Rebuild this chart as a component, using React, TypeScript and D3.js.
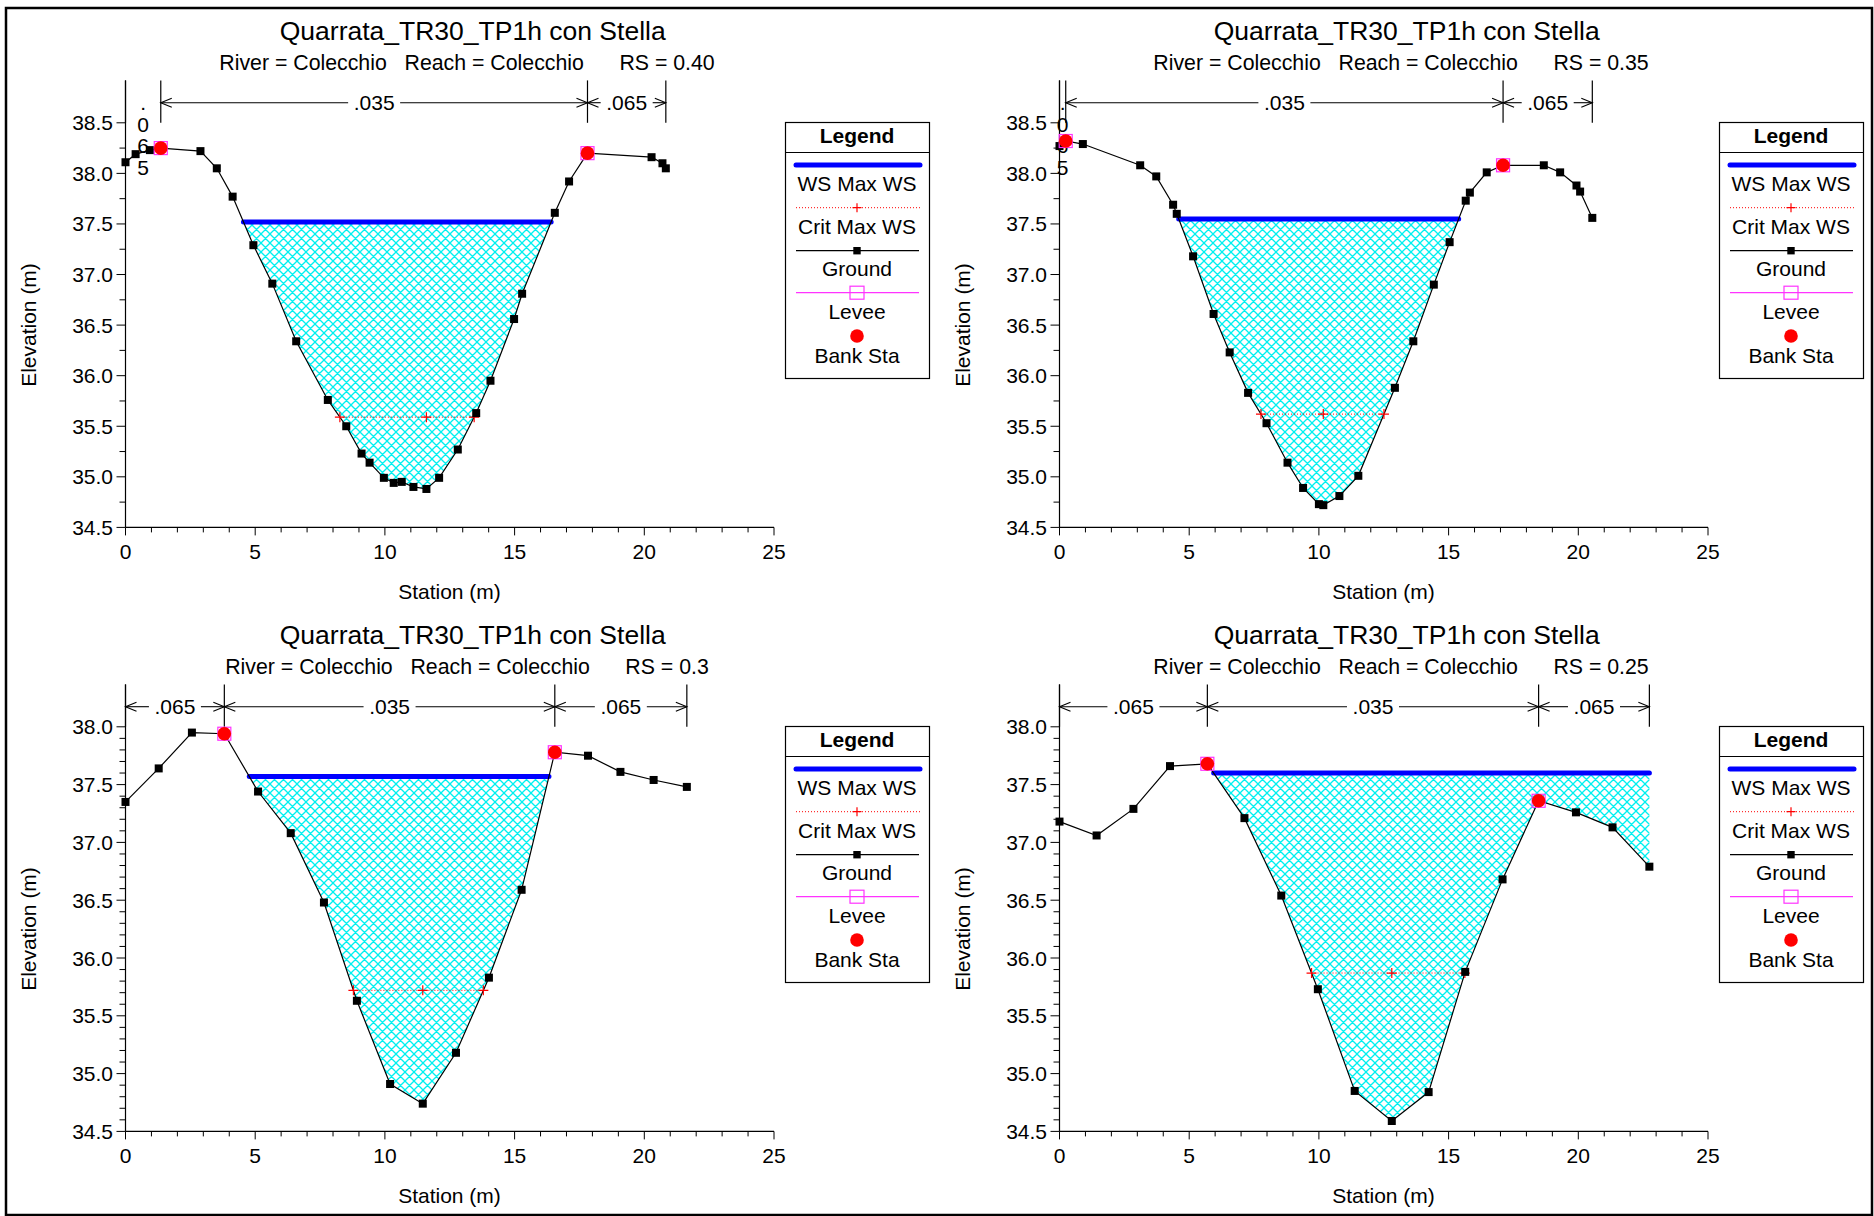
import React from 'react';
import * as d3 from 'd3';

// ---------- DATA ----------
const titleText = 'Quarrata_TR30_TP1h con Stella';
const riverName = 'Colecchio';
const reachName = 'Colecchio';
const xTickValues = [0, 5, 10, 15, 20, 25];

// RS = 0.40
const sta040 = [0, 0.39, 0.94, 1.36, 2.89, 3.52, 4.13, 4.93, 5.66, 6.58, 7.8, 8.51, 9.1, 9.41, 9.96, 10.34, 10.65, 11.1, 11.6, 12.09, 12.81, 13.52, 14.07, 14.98, 15.29, 16.55, 17.1, 17.81, 20.28, 20.7, 20.83];
const elev040 = [38.11, 38.19, 38.23, 38.25, 38.22, 38.05, 37.77, 37.29, 36.91, 36.34, 35.76, 35.5, 35.23, 35.14, 34.99, 34.94, 34.95, 34.9, 34.88, 34.99, 35.27, 35.63, 35.95, 36.56, 36.81, 37.61, 37.92, 38.2, 38.16, 38.1, 38.05];
const ws040 = 37.52;
const crit040 = 35.59;
const banks040 = [1.36, 17.81];
const nBounds040 = [0, 1.36, 17.81, 20.83];
const nVals040 = ['.065', '.035', '.065'];

// RS = 0.35
const sta035 = [0, 0.24, 0.9, 3.11, 3.73, 4.38, 4.52, 5.15, 5.94, 6.56, 7.27, 7.98, 8.79, 9.39, 10.0, 10.17, 10.79, 11.52, 12.93, 13.64, 14.43, 15.04, 15.66, 15.82, 16.47, 17.1, 18.67, 19.3, 19.93, 20.07, 20.54];
const elev035 = [38.27, 38.32, 38.29, 38.08, 37.97, 37.69, 37.6, 37.18, 36.61, 36.23, 35.83, 35.53, 35.14, 34.89, 34.73, 34.72, 34.81, 35.01, 35.88, 36.34, 36.9, 37.32, 37.73, 37.81, 38.01, 38.08, 38.08, 38.01, 37.88, 37.82, 37.56];
const ws035 = 37.55;
const crit035 = 35.62;
const banks035 = [0.24, 17.1];
const nBounds035 = [0, 0.24, 17.1, 20.54];
const nVals035 = ['.065', '.035', '.065'];

// RS = 0.3
const sta030 = [0, 1.28, 2.56, 3.81, 5.11, 6.37, 7.65, 8.92, 10.2, 11.46, 12.74, 14.01, 15.27, 16.55, 17.83, 19.08, 20.36, 21.64];
const elev030 = [37.35, 37.64, 37.95, 37.94, 37.44, 37.08, 36.48, 35.63, 34.91, 34.74, 35.18, 35.83, 36.59, 37.78, 37.75, 37.61, 37.54, 37.48];
const ws030 = 37.57;
const crit030 = 35.72;
const banks030 = [3.81, 16.55];
const nBounds030 = [0, 3.81, 16.55, 21.64];
const nVals030 = ['.065', '.035', '.065'];

// RS = 0.25
const sta025 = [0, 1.43, 2.85, 4.26, 5.7, 7.13, 8.55, 9.96, 11.38, 12.81, 14.23, 15.64, 17.08, 18.47, 19.91, 21.32, 22.74];
const elev025 = [37.18, 37.06, 37.29, 37.66, 37.68, 37.21, 36.54, 35.73, 34.85, 34.59, 34.84, 35.88, 36.68, 37.36, 37.26, 37.13, 36.79];
const ws025 = 37.6;
const crit025 = 35.87;
const banks025 = [5.7, 18.47];
const nBounds025 = [0, 5.7, 18.47, 22.74];
const nVals025 = ['.065', '.035', '.065'];

const panels = [
  { rs: '0.40', sta: sta040, elev: elev040, ws: ws040, crit: crit040, banks: banks040, nB: nBounds040, nV: nVals040, yMax: 38.5, minor: 0.25, ox: 0, oy: 0 },
  { rs: '0.35', sta: sta035, elev: elev035, ws: ws035, crit: crit035, banks: banks035, nB: nBounds035, nV: nVals035, yMax: 38.5, minor: 0.25, ox: 934, oy: 0 },
  { rs: '0.3', sta: sta030, elev: elev030, ws: ws030, crit: crit030, banks: banks030, nB: nBounds030, nV: nVals030, yMax: 38.0, minor: 0.1, ox: 0, oy: 604 },
  { rs: '0.25', sta: sta025, elev: elev025, ws: ws025, crit: crit025, banks: banks025, nB: nBounds025, nV: nVals025, yMax: 38.0, minor: 0.1, ox: 934, oy: 604 },
];

// ---------- LAYOUT ----------
const W = 1874;
const H = 1216;
const FONT = '"Liberation Sans", Arial, Helvetica, sans-serif';
const L = 125.5, R = 774, B = 527.4, T = 122.8, AT = 80.4, AY = 102.7;

function wetExtent(sta: number[], elev: number[], level: number) {
  const i0 = d3.minIndex(elev);
  let il = i0;
  while (il > 0 && elev[il - 1] < level) il--;
  let ir = i0;
  while (ir < elev.length - 1 && elev[ir + 1] < level) ir++;
  const cross = (a: number, b: number) => sta[a] + ((level - elev[a]) / (elev[b] - elev[a])) * (sta[b] - sta[a]);
  const xl = il > 0 ? cross(il - 1, il) : sta[0];
  const xr = ir < elev.length - 1 ? cross(ir, ir + 1) : sta[elev.length - 1];
  return { i0, il, ir, xl, xr };
}

function plusPath(cx: number, cy: number, s: number) {
  return `M${cx - s},${cy}H${cx + s}M${cx},${cy - s}V${cy + s}`;
}

function Legend() {
  const cx = 857;
  const tx = { fontFamily: FONT, fontSize: 21, textAnchor: 'middle' as const, dominantBaseline: 'central' as const };
  return (
    <g>
      <rect x={785.5} y={122.5} width={144} height={256} fill="#fff" stroke="#000" strokeWidth={1.2} />
      <text x={cx} y={135} {...tx} fontWeight="bold">Legend</text>
      <line x1={785.5} x2={929.5} y1={152.5} y2={152.5} stroke="#000" strokeWidth={1.2} />
      <line x1={796} x2={920} y1={165} y2={165} stroke="#0000ff" strokeWidth={5} strokeLinecap="round" />
      <text x={cx} y={183} {...tx}>WS Max WS</text>
      <line x1={796} x2={920} y1={207.7} y2={207.7} stroke="#ff0000" strokeWidth={1} strokeDasharray="1,2" />
      <path d={plusPath(cx, 207.7, 4.5)} stroke="#ff0000" strokeWidth={1.2} />
      <text x={cx} y={226.7} {...tx}>Crit Max WS</text>
      <line x1={796} x2={919} y1={250.7} y2={250.7} stroke="#000" strokeWidth={1.2} />
      <rect x={cx - 3.7} y={247} width={7.4} height={7.4} fill="#000" />
      <text x={cx} y={268} {...tx}>Ground</text>
      <line x1={796} x2={919} y1={292.7} y2={292.7} stroke="#ff33ff" strokeWidth={1.2} />
      <rect x={cx - 7} y={286.2} width={14} height={13} fill="none" stroke="#ff33ff" strokeWidth={1.2} />
      <text x={cx} y={311.7} {...tx}>Levee</text>
      <circle cx={cx} cy={336} r={6.8} fill="#ff0000" />
      <text x={cx} y={355} {...tx}>Bank Sta</text>
    </g>
  );
}

function Panel({ p }: { p: any }) {
  const x = d3.scaleLinear().domain([0, 25]).range([L, R]);
  const y = d3.scaleLinear().domain([34.5, p.yMax]).range([B, T]);
  const pts: [number, number][] = p.sta.map((s: number, i: number) => [s, p.elev[i]]);
  const line = d3.line<[number, number]>().x((d) => x(d[0])).y((d) => y(d[1]));
  const wet = wetExtent(p.sta, p.elev, p.ws);
  const poly: [number, number][] = [[wet.xl, p.ws], ...pts.slice(wet.il, wet.ir + 1), [wet.xr, p.ws]];
  const cr = wetExtent(p.sta, p.elev, p.crit);
  const nY = Math.round((p.yMax - 34.5) / p.minor);
  const majorEvery = Math.round(0.5 / p.minor);
  const yTicks = d3.range(nY + 1).map((i) => ({ v: 34.5 + i * p.minor, major: i % majorEvery === 0 }));
  const xTicks = d3.range(26).map((i) => ({ v: i, major: i % 5 === 0 }));
  const tx = { fontFamily: FONT, fontSize: 21, dominantBaseline: 'central' as const };
  const bankPts = p.banks.map((b: number) => [b, p.elev[p.sta.indexOf(b)]]);

  return (
    <g transform={`translate(${p.ox},${p.oy})`}>
      <text x={472.7} y={30.6} {...tx} fontSize={26.5} textAnchor="middle">{titleText}</text>
      <text x={467} y={63.1} {...tx} fontSize={21.3} textAnchor="middle" style={{ whiteSpace: 'pre' }}>
        {`River = ${riverName}   Reach = ${reachName}      RS = ${p.rs}`}
      </text>

      {/* water fill */}
      <path d={line(poly) + 'Z'} fill="url(#xhatch)" stroke="none" />

      {/* axes */}
      <line x1={L} x2={L} y1={AT} y2={B} stroke="#000" strokeWidth={1.2} />
      <line x1={L} x2={R} y1={B} y2={B} stroke="#000" strokeWidth={1.2} />
      {yTicks.map((t, i) => (
        <g key={'y' + i}>
          <line x1={L - (t.major ? 9 : 6)} x2={L} y1={y(t.v)} y2={y(t.v)} stroke="#000" strokeWidth={1} />
          {t.major && (
            <text x={L - 12.5} y={y(t.v)} {...tx} textAnchor="end">{d3.format('.1f')(t.v)}</text>
          )}
        </g>
      ))}
      {xTicks.map((t, i) => (
        <line key={'x' + i} x1={x(t.v)} x2={x(t.v)} y1={B} y2={B + (t.major ? 8 : 5)} stroke="#000" strokeWidth={1} />
      ))}
      {xTickValues.map((v) => (
        <text key={'xl' + v} x={x(v)} y={551} {...tx} textAnchor="middle">{v}</text>
      ))}
      <text x={449.5} y={591.6} {...tx} textAnchor="middle">Station (m)</text>
      <text transform={`translate(28.7,325) rotate(-90)`} {...tx} textAnchor="middle">Elevation (m)</text>

      {/* n-values */}
      {p.nB.map((b: number, k: number) => (
        <line key={'nb' + k} x1={x(b)} x2={x(b)} y1={AT} y2={T} stroke="#000" strokeWidth={1.2} />
      ))}
      {p.nV.map((v: string, k: number) => {
        const x0 = x(p.nB[k]);
        const x1 = x(p.nB[k + 1]);
        const cx = (x0 + x1) / 2;
        if (x1 - x0 < 60) {
          return (
            <g key={'nv' + k}>
              {v.split('').map((ch, j) => (
                <text key={j} x={cx} y={AY + j * 21.6} {...tx} textAnchor="middle">{ch}</text>
              ))}
            </g>
          );
        }
        return (
          <g key={'nv' + k} stroke="#000" strokeWidth={1.1} fill="none">
            <line x1={x0} x2={cx - 26} y1={AY} y2={AY} />
            <line x1={cx + 26} x2={x1} y1={AY} y2={AY} />
            <path d={`M${x0 + 11},${AY - 4.5}L${x0},${AY}L${x0 + 11},${AY + 4.5}`} />
            <path d={`M${x1 - 11},${AY - 4.5}L${x1},${AY}L${x1 - 11},${AY + 4.5}`} />
            <text x={cx} y={AY} {...tx} textAnchor="middle" fill="#000" stroke="none">{v}</text>
          </g>
        );
      })}

      {/* WS line */}
      <line x1={x(wet.xl)} x2={x(wet.xr)} y1={y(p.ws)} y2={y(p.ws)} stroke="#0000ff" strokeWidth={5} strokeLinecap="round" />

      {/* Ground */}
      <path d={line(pts) || ''} fill="none" stroke="#000" strokeWidth={1.2} />

      {/* Crit */}
      <line x1={x(cr.xl)} x2={x(cr.xr)} y1={y(p.crit)} y2={y(p.crit)} stroke="#ff0000" strokeWidth={1} strokeDasharray="1,2" />
      {[cr.xl, p.sta[cr.i0], cr.xr].map((s, i) => (
        <path key={'cp' + i} d={plusPath(x(s), y(p.crit), 5)} stroke="#ff0000" strokeWidth={1.2} />
      ))}

      {pts.map((d, i) => (
        <rect key={'g' + i} x={x(d[0]) - 4} y={y(d[1]) - 4} width={8} height={8} fill="#000" />
      ))}
      {bankPts.map((d: number[], i: number) => (
        <g key={'b' + i}>
          <rect x={x(d[0]) - 6.5} y={y(d[1]) - 6.5} width={13} height={13} fill="none" stroke="#ff33ff" strokeWidth={1.2} />
          <circle cx={x(d[0])} cy={y(d[1])} r={6.8} fill="#ff0000" />
        </g>
      ))}

      <Legend />
    </g>
  );
}

export default function App() {
  return (
    <svg width={W} height={H} viewBox={`0 0 ${W} ${H}`} style={{ position: 'absolute', left: 0, top: 0, background: '#fff' }}>
      <defs>
        <pattern id="xhatch" patternUnits="userSpaceOnUse" width={9} height={9}>
          <rect width={9} height={9} fill="#fff" />
          <path d="M-2,2L2,-2M0,9L9,0M7,11L11,7M-2,7L2,11M0,0L9,9M7,-2L11,2" stroke="#00f0f0" strokeWidth={1.3} fill="none" />
        </pattern>
      </defs>
      <rect width={W} height={H} fill="#fff" />
      {panels.map((p, i) => (
        <Panel key={i} p={p} />
      ))}
      <rect x={6} y={8} width={1866} height={1207} fill="none" stroke="#000" strokeWidth={2.5} />
    </svg>
  );
}
